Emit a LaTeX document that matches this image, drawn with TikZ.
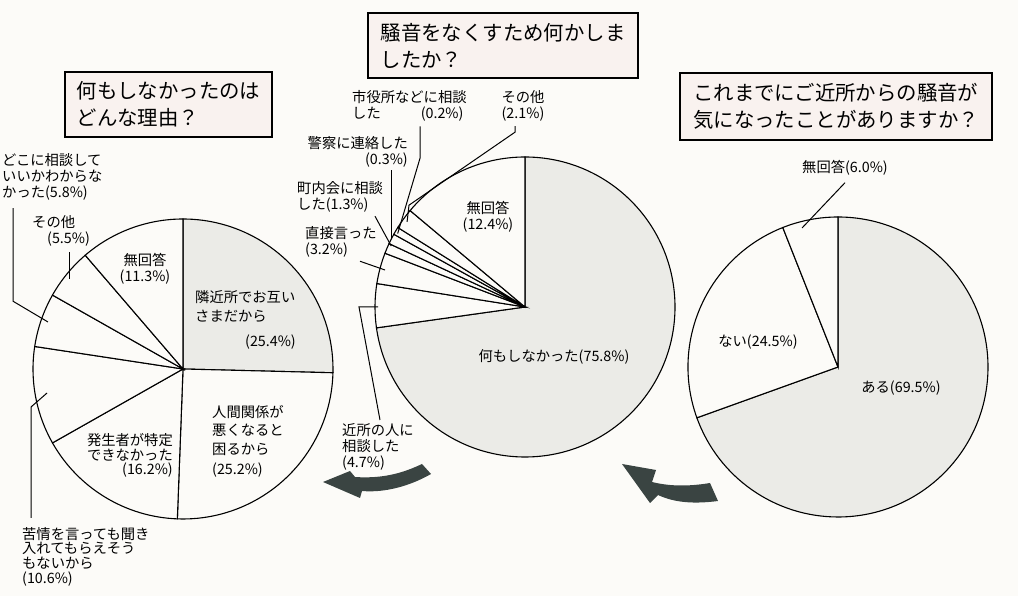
\documentclass[tikz,border=0pt]{standalone}
\usepackage{fontspec}
\setmainfont{Noto Sans CJK JP}
\usetikzlibrary{calc}

\definecolor{piegray}{RGB}{235,235,231}
\definecolor{paper}{RGB}{252,251,248}
\definecolor{boxfill}{RGB}{249,242,239}
\definecolor{arrowgray}{RGB}{58,68,66}

\tikzset{
  pieline/.style={draw=black, line width=1.1pt},
  titlebox/.style={draw=black, line width=1.1pt, fill=boxfill, align=left,
    font=\fontsize{20.4}{27}\selectfont, inner xsep=0pt},
  lbl/.style={inner sep=0pt, font=\fontsize{14.3}{16}\selectfont},
  leader/.style={draw=black, line width=1pt},
  bigarrow/.style={fill=arrowgray}
}

\begin{document}
\begin{tikzpicture}[x=1pt,y=1pt]
    \useasboundingbox (0,0) rectangle (1018,596);
    \fill[paper] (0,0) rectangle (1018,596);

    % radius of all three pies
    \def\pieR{150}

    % left pie: why nothing was done
    \coordinate (L) at (183,227);
    \foreach \s/\e/\c in {90/-1.44/piegray, -1.44/-92.16/paper, -92.16/-150.48/paper,
        -150.48/-188.64/paper, -188.64/-209.52/paper, -209.52/-229.32/paper, -229.32/-270/paper}
      \filldraw[pieline, fill=\c] (L) -- ++(\s:\pieR) arc[start angle=\s, end angle=\e, radius=\pieR] -- cycle;

    % middle pie: what was done against the noise
    \coordinate (M) at (525,289);
    \foreach \s/\e/\c in {90/-172/piegray, -172/-189/paper, -189/-201/paper, -201/-205/paper,
        -205/-209/paper, -209/-212/paper, -212/-220/paper, -220/-270/paper}
      \filldraw[pieline, fill=\c] (M) -- ++(\s:\pieR) arc[start angle=\s, end angle=\e, radius=\pieR] -- cycle;

    % right pie: was the noise noticed
    \coordinate (R) at (838,229);
    \foreach \s/\e/\c in {90/-160.2/piegray, -160.2/-248.4/paper, -248.4/-270/paper}
      \filldraw[pieline, fill=\c] (R) -- ++(\s:\pieR) arc[start angle=\s, end angle=\e, radius=\pieR] -- cycle;

    % question boxes
    \node[titlebox, minimum width=207pt, minimum height=65pt] (tLeft) at (168.5,491.5) {何もしなかったのは\\どんな理由？};
    \node[titlebox, minimum width=270pt, minimum height=65pt] (tMid) at (503,550.5) {騒音をなくすため何かしま\\したか？};
    \node[titlebox, minimum width=312pt, minimum height=67pt] (tRight) at (836,489.5) {これまでにご近所からの騒音が\\気になったことがありますか？};

    % labels of the left pie
    \node[lbl, anchor=north west, align=left] (Ldoko) at (2,443) {どこに相談して\\いいかわからな\\かった(5.8\%)};
    \node[lbl, anchor=north west, align=left] (Lsono) at (32,381) {その他\\\hspace*{15pt}(5.5\%)};
    \node[lbl, anchor=north, align=center] (Lmu) at (145,343) {無回答\\(11.3\%)};
    \node[lbl, anchor=north west, align=left, font=\fontsize{14.3}{19.5}\selectfont] (Ltonari) at (195,306) {隣近所でお互い\\さまだから\\[5pt]\hspace*{50pt}(25.4\%)};
    \node[lbl, anchor=north west, align=left, font=\fontsize{14.3}{18.5}\selectfont] (Lningen) at (212,191) {人間関係が\\悪くなると\\困るから\\[2pt](25.2\%)};
    \node[lbl, anchor=north east, align=right, font=\fontsize{14.3}{14.8}\selectfont] (Lhassei) at (173,163) {発生者が特定\\できなかった\\(16.2\%)};
    \node[lbl, anchor=north west, align=left, font=\fontsize{14.3}{14.7}\selectfont] (Lkujo) at (22,69) {苦情を言っても聞き\\入れてもらえそう\\もないから\\(10.6\%)};

    \coordinate (Pdoko) at ($(L)+(160.8:143)$);
    \coordinate (Psono) at ($(L)+(141.5:144.5)$);
    \coordinate (Pkujo) at ($(L)+(190:138)$);
    \draw[leader] ([xshift=11pt,yshift=-8pt]Ldoko.south west) -- ++(0,-93) -- (Pdoko);
    \draw[leader] (Psono |- Lsono.south) ++(0,-6) -- (Psono);
    \draw[leader] ([xshift=9pt,yshift=9pt]Lkujo.north west) -- ++(0,111) -- (Pkujo);

    % labels of the middle pie
    \node[lbl, anchor=north west, align=left] (Mshiyaku) at (352,506) {市役所などに相談\\した\hspace{40pt}(0.2\%)};
    \node[lbl, anchor=north, align=center] (Msono) at (523,506) {その他\\(2.1\%)};
    \node[lbl, anchor=north east, align=right] (Mkeisatsu) at (408,460) {警察に連絡した\\(0.3\%)};
    \node[lbl, anchor=north west, align=left] (Mchonai) at (297,415) {町内会に相談\\した(1.3\%)};
    \node[lbl, anchor=north west, align=left] (Mchoku) at (305,370) {直接言った\\(3.2\%)};
    \node[lbl, anchor=north west, align=left] (Mkinjo) at (342,173) {近所の人に\\相談した\\(4.7\%)};
    \node[lbl, anchor=north, align=center] (Mmu) at (488,395) {無回答\\(12.4\%)};
    \node[lbl] (Mnashi) at (554,239) {何もしなかった(75.8\%)};

    \coordinate (Pmsono) at ($(M)+(144.2:145.4)$);
    \coordinate (Pshiyaku) at ($(M)+(150:147)$);
    \coordinate (Pkeisatsu) at ($(M)+(153:150)$);
    \coordinate (Pchonai) at ($(M)+(155.5:147)$);
    \coordinate (Pchoku) at ($(M)+(165.2:144.8)$);
    \coordinate (Pkinjo) at ($(M)+(180:147)$);
    \draw[leader] ([xshift=-8pt,yshift=-5pt]Msono.south) -- ++(0,-6) -- ++(-106,-73) -- (Pmsono);
    \draw[leader] ([xshift=68pt,yshift=-5pt]Mshiyaku.south west) -- ++(0,-32) -- (Pshiyaku);
    \draw[leader] (Pkeisatsu |- Mkeisatsu.south) ++(0,-3) -- (Pkeisatsu);
    \draw[leader] ([xshift=78pt,yshift=-4pt]Mchonai.south west) -- (Pchonai);
    \draw[leader] ([xshift=55pt,yshift=-4pt]Mchoku.south west) -- (Pchoku);
    \draw[leader] ([xshift=38pt,yshift=3pt]Mkinjo.north west) -- ++(-21,113) -- (Pkinjo);

    % labels of the right pie
    \node[lbl] (Rmu) at (845,428) {無回答(6.0\%)};
    \node[lbl] (Rnai) at (758,254) {ない(24.5\%)};
    \node[lbl] (Raru) at (901,208) {ある(69.5\%)};
    \coordinate (Pmu) at ($(R)+(104.5:143.6)$);
    \draw[leader] ([yshift=-7pt]Rmu.south) -- (Pmu);

    % thick arrows from right to left
    \fill[bigarrow] (323,114) -- (350,125) -- (355,119) .. controls (385,117) and (405,124) .. (422,132)
      -- (431,122) .. controls (410,110) and (385,103) .. (362,105) -- (360,98) -- cycle;
    \fill[bigarrow] (622,132) -- (656,126) -- (652,114) .. controls (672,109) and (692,110) .. (710,113)
      -- (718,95) .. controls (695,92) and (675,93) .. (658,101) -- (650,93) -- cycle;
\end{tikzpicture}
\end{document}
